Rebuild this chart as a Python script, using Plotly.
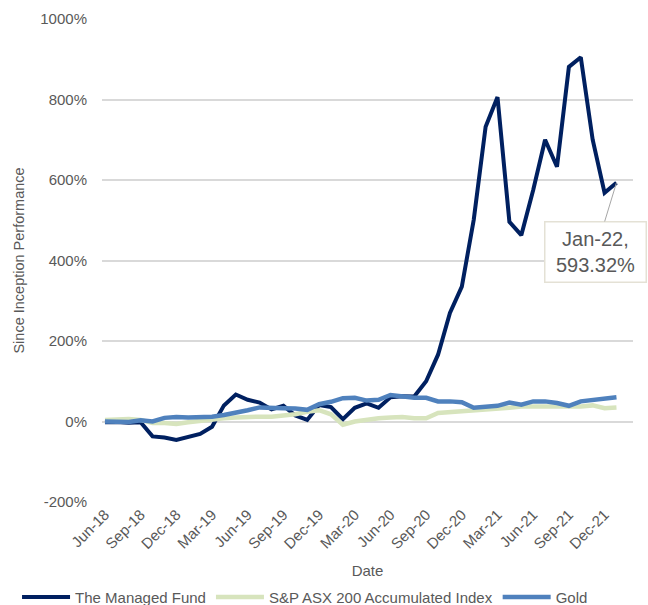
import plotly.graph_objects as go

months = ["Jun-18", "Jul-18", "Aug-18", "Sep-18", "Oct-18", "Nov-18", "Dec-18",
          "Jan-19", "Feb-19", "Mar-19", "Apr-19", "May-19", "Jun-19", "Jul-19", "Aug-19",
          "Sep-19", "Oct-19", "Nov-19", "Dec-19",
          "Jan-20", "Feb-20", "Mar-20", "Apr-20", "May-20", "Jun-20", "Jul-20", "Aug-20",
          "Sep-20", "Oct-20", "Nov-20", "Dec-20",
          "Jan-21", "Feb-21", "Mar-21", "Apr-21", "May-21", "Jun-21", "Jul-21", "Aug-21",
          "Sep-21", "Oct-21", "Nov-21", "Dec-21", "Jan-22"]

fund = [-2, -1, -3, -2, -37, -40, -46, -38, -31, -13, 40, 67, 54, 47, 30, 39, 15, 4,
        41, 36, 6, 34, 45, 34, 60, 63, 62, 100, 166, 270, 335, 501, 732, 806, 496, 463,
        575, 700, 633, 881, 905, 700, 568, 593.32]
asx = [4, 6, 6, 4, -4, -4, -6, -2, 2, 5, 8, 10, 12, 12, 12, 15, 18, 24, 28, 18, -8, 0,
       5, 8, 10, 11, 8, 8, 21, 23, 25, 26, 28, 32, 34, 37, 37, 37, 37, 36, 37, 40, 33, 35]
gold = [0, 0, -1, 3, 0, 9, 11, 10, 10, 12, 16, 21, 28, 35, 33, 33, 32, 29, 43, 49, 58,
        59, 52, 54, 66, 62, 59, 59, 50, 50, 48, 34, 37, 39, 47, 42, 50, 50, 46, 39, 50,
        54, 56, 60]

series_names = ["The Managed Fund", "S&P ASX 200 Accumulated Index", "Gold"]
y_ticks = [-200, 0, 200, 400, 600, 800, 1000]

idx = list(range(len(months)))
tick_idx = idx[::3]
tick_text = [months[i] for i in tick_idx]

FONT = "Liberation Sans, Arial, sans-serif"
GREY = "#595959"

fig = go.Figure()
fig.add_trace(go.Scatter(x=idx, y=fund, mode="lines", name=series_names[0],
                         line=dict(color="#002060", width=4)))
fig.add_trace(go.Scatter(x=idx, y=asx, mode="lines", name=series_names[1],
                         line=dict(color="#D7E4BD", width=4.5)))
fig.add_trace(go.Scatter(x=idx, y=gold, mode="lines", name=series_names[2],
                         line=dict(color="#4F81BD", width=4.5)))

fig.add_annotation(x=idx[-1], y=fund[-1], xref="x", yref="y",
                   text=f"{months[-1]},<br>{fund[-1]:.2f}%",
                   showarrow=True, arrowhead=0, arrowwidth=1, arrowcolor="#a6a6a6",
                   ax=-21, ay=69, bgcolor="white", bordercolor="#e4e1d5", borderwidth=1.5,
                   borderpad=2, width=96, height=55,
                   font=dict(family=FONT, size=20, color=GREY))

fig.update_layout(
    width=648, height=605,
    margin=dict(l=102, r=15, t=19, b=103, autoexpand=False),
    paper_bgcolor="white", plot_bgcolor="white",
    font=dict(family=FONT, size=15, color=GREY),
    showlegend=True,
    legend=dict(orientation="h", x=-0.16, xanchor="left", y=-0.197, yanchor="middle",
                itemwidth=48,
                font=dict(family=FONT, size=15, color=GREY), bgcolor="rgba(0,0,0,0)"),
    xaxis=dict(range=[-0.25, 44.39], tickmode="array", tickvals=tick_idx, ticktext=tick_text,
               tickangle=-45, showgrid=False, zeroline=False, showline=False, ticks="",
               automargin=False,
               tickfont=dict(family=FONT, size=15, color=GREY),
               title=dict(text="Date", standoff=14, font=dict(family=FONT, size=15, color=GREY))),
    yaxis=dict(range=[-200, 1000], tickmode="array", tickvals=y_ticks,
               ticktext=[f"{v}%" for v in y_ticks], showgrid=True, gridcolor="#d9d9d9",
               gridwidth=1.5, zeroline=False, showline=False, ticks="", ticklabelstandoff=14,
               automargin=False,
               tickfont=dict(family=FONT, size=15, color=GREY),
               title=dict(text="Since Inception Performance", standoff=12,
                          font=dict(family=FONT, size=14.5, color=GREY))),
)

fig.write_html("out.html")
